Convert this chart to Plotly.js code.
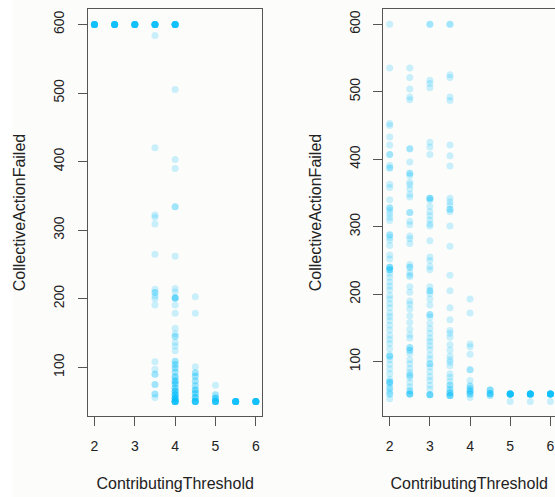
<!DOCTYPE html>
<html>
<head>
<meta charset="utf-8">
<script src="https://cdn.plot.ly/plotly-3.0.1.min.js"></script>
<style>html,body{margin:0;padding:0;background:#fcfcfa;}#chart{width:555px;height:497px;}</style>
</head>
<body>
<div id="chart"></div>
<script>
// ContributingThreshold categories
const thresholds = [2, 2.5, 3, 3.5, 4, 4.5, 5, 5.5, 6];

// Left panel: CollectiveActionFailed values observed at each threshold (repeats = overlapping runs)
const left_2   = [600,600,600,600,600,600,600,600,600,600,600,600];
const left_2_5 = [600,600,600,600,600,600,600,600,600,600,600,600];
const left_3   = [600,600,600,600,600,600,600,600,600,600,600,600];
const left_3_5 = [600,600,600,600,600,600,600,600,600,600,600,600,584,420,322,319,309,265,214,209,209,204,200,191,108,97,90,90,75,75,61,61,56];
const left_4   = [600,600,600,600,600,600,600,600,600,600,600,600,505,403,390,334,334,262,215,210,201,201,201,201,191,179,157,149,145,145,136,131,124,109,109,104,104,99,99,93,93,86,86,86,80,80,80,76,76,76,70,70,70,65,65,65,65,60,60,60,60,60,55,55,55,55,55,55,50,50,50,50,50,50,50,50,50,50];
const left_4_5 = [203,179,101,92,92,87,87,80,80,73,73,67,67,67,62,62,62,56,56,56,56,50,50,50,50,50,50,50,50];
const left_5   = [74,60,60,55,55,55,55,50,50,50,50,50,50,50,50];
const left_5_5 = [50,50,50,50,50,50,50,50,50,50,50,50];
const left_6   = [50,50,50,50,50,50,50,50,50,50,50,50];

// Right panel
const right_2   = [600,535,453,450,433,421,407,407,391,387,387,363,358,340,328,328,324,319,314,309,288,288,284,280,272,258,252,240,240,240,236,236,236,231,225,218,212,206,198,193,186,180,172,167,161,154,147,139,133,127,119,110,108,108,103,96,89,82,74,70,70,70,67,61,61,56,52,52,45];
const right_2_5 = [535,521,504,492,488,416,415,396,379,379,376,366,362,356,348,344,321,321,308,303,286,282,275,244,240,240,232,228,226,211,203,190,185,178,168,158,148,140,135,121,121,117,117,112,103,97,90,84,80,80,76,69,63,57,57,52,52,52,52];
const right_3   = [600,600,517,512,506,425,418,407,342,342,342,339,330,322,316,310,304,301,279,255,250,241,236,211,205,205,201,193,184,170,170,166,157,149,142,135,130,124,118,110,104,97,97,92,85,78,72,65,59,51,51,51,51];
const right_3_5 = [600,600,525,521,492,487,421,405,390,342,337,332,326,326,322,301,271,228,205,180,162,146,142,136,125,117,108,103,99,94,82,77,71,65,65,59,59,54,54,54,50,50,50,50];
const right_4   = [193,172,126,122,111,88,88,72,64,64,60,60,56,56,56,52,52,52,47];
const right_4_5 = [58,58,58,53,53,53,53,50,50];
const right_5   = [52,52,52,52,52,52,52,52,52,52,52,52,41];
const right_5_5 = [52,52,52,52,52,52,52,52,52,52,52,52,41];
const right_6   = [52,52,52,52,52,52,52,52,52,52,52,52,41];

const leftCols  = [left_2, left_2_5, left_3, left_3_5, left_4, left_4_5, left_5, left_5_5, left_6];
const rightCols = [right_2, right_2_5, right_3, right_3_5, right_4, right_4_5, right_5, right_5_5, right_6];

function flatten(cols) {
  const xs = [], ys = [];
  cols.forEach((col, i) => col.forEach(v => { xs.push(thresholds[i]); ys.push(v); }));
  return {xs, ys};
}
const L = flatten(leftCols), R = flatten(rightCols);

const FONT = 'Liberation Sans, Arial, Helvetica, sans-serif';
const marker = {color: 'rgba(0,191,255,0.2)', size: 7, line: {width: 0}};

const traces = [
  {type: 'scatter', mode: 'markers', x: L.xs, y: L.ys, xaxis: 'x', yaxis: 'y', marker: marker, hoverinfo: 'x+y'},
  {type: 'scatter', mode: 'markers', x: R.xs, y: R.ys, xaxis: 'x2', yaxis: 'y2', marker: marker, hoverinfo: 'x+y'}
];

function xa(domain, range) {
  return {
    domain: domain, range: range, anchor: domain[0] === 0 ? 'y' : 'y2',
    tickvals: [2, 3, 4, 5, 6], ticks: 'outside', ticklen: 9, tickwidth: 1, tickcolor: '#555',
    showline: true, linecolor: '#555', linewidth: 1, mirror: true,
    showgrid: false, zeroline: false, ticklabelstandoff: 8,
    tickfont: {family: FONT, size: 14, color: '#222'},
    title: {text: 'ContributingThreshold', font: {family: FONT, size: 16, color: '#222'}, standoff: 25},
    automargin: false
  };
}
function ya(range, anchor, mirror) {
  return {
    domain: [0, 1], range: range, anchor: anchor,
    tickvals: [100, 200, 300, 400, 500, 600], tickangle: -90,
    ticks: 'outside', ticklen: 9, tickwidth: 1, tickcolor: '#555',
    showline: true, linecolor: '#555', linewidth: 1, mirror: mirror,
    showgrid: false, zeroline: false, ticklabelstandoff: 8,
    tickfont: {family: FONT, size: 14, color: '#222'},
    title: {text: 'CollectiveActionFailed', font: {family: FONT, size: 16, color: '#222'}, standoff: 21},
    automargin: false
  };
}

const layout = {
  width: 555, height: 497,
  margin: {l: 88, r: 0, t: 9, b: 81, pad: 0},
  paper_bgcolor: '#fcfcfa', plot_bgcolor: '#fcfcfa',
  showlegend: false,
  xaxis: xa([0, 0.3732], [1.84, 6.16]),
  yaxis: ya([29, 622.5], 'x', true),
  xaxis2: xa([0.6323, 1], [1.84, 6.114]),
  yaxis2: ya([19.5, 622.5], 'x2', false),
  shapes: [{type: 'rect', xref: 'paper', yref: 'paper', x0: -88/467, x1: -75/467, y0: -81/407, y1: 1 + 9/407,
            fillcolor: '#ffffff', line: {width: 0}, layer: 'below'}]
};

Plotly.newPlot('chart', traces, layout, {displayModeBar: false, staticPlot: true});
</script>
</body>
</html>
